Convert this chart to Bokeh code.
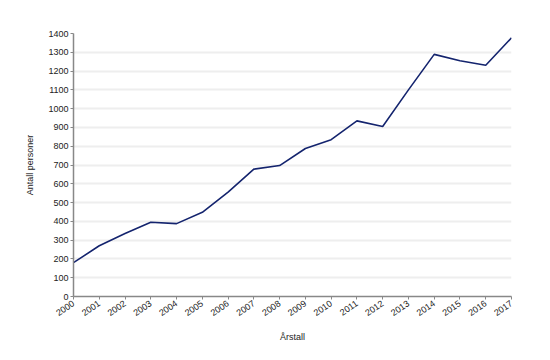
import math
from bokeh.plotting import figure
from bokeh.models import Range1d, FixedTicker
from bokeh.embed import file_html
from bokeh.resources import INLINE

years = list(range(2000, 2018))
persons = [180, 270, 335, 395, 388, 448, 556, 678, 697, 788, 835, 935, 905, 1100, 1289, 1255, 1231, 1377]
y_ticks = list(range(0, 1500, 100))

FONT = "Liberation Sans"

p = figure(width=534, height=344, output_backend="svg", toolbar_location=None,
           x_range=Range1d(2000, 2017), y_range=Range1d(0, 1400),
           min_border_left=73, min_border_right=23, min_border_top=33, min_border_bottom=46)
p.outline_line_color = None
p.background_fill_color = "white"
p.border_fill_color = "white"

p.line(years, persons, line_color="#14246e", line_width=1.6)

p.xgrid.visible = False
p.ygrid.grid_line_color = "#eeeeee"
p.ygrid.grid_line_width = 2

p.xaxis.ticker = FixedTicker(ticks=years)
p.yaxis.ticker = FixedTicker(ticks=y_ticks)
p.xaxis.major_label_orientation = 0.6

for ax in (p.xaxis, p.yaxis):
    ax.axis_line_color = "#888888"
    ax.axis_line_width = 1.5
    ax.major_tick_line_color = "#888888"
    ax.major_tick_in = 0
    ax.major_tick_out = 3
    ax.minor_tick_line_color = None
    ax.major_label_text_font = FONT
    ax.major_label_text_font_size = "9px"
    ax.major_label_text_color = "#222222"
    ax.axis_label_text_font = FONT
    ax.axis_label_text_font_size = "9px"
    ax.axis_label_text_font_style = "normal"
    ax.axis_label_text_color = "#222222"

p.xaxis.axis_label = "Årstall"
p.yaxis.axis_label = "Antall personer"
p.yaxis.major_label_standoff = 2
p.xaxis.major_label_standoff = 3
p.yaxis.axis_label_standoff = 10
p.xaxis.axis_label_standoff = 10

open("out.html", "w").write(file_html(p, INLINE))
